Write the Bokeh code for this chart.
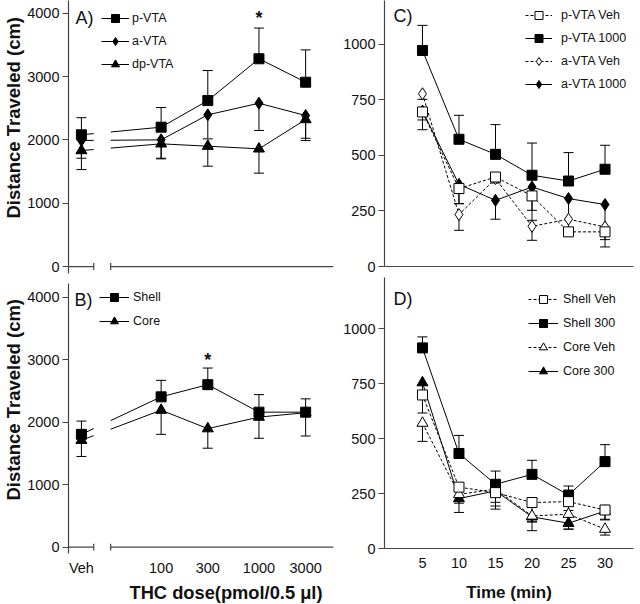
import numpy as np
from bokeh.plotting import figure
from bokeh.layouts import row, column
from bokeh.models import (ColumnDataSource, Whisker, TeeHead, Legend, LegendItem,
                          Label, Title, FixedTicker, Range1d)
from bokeh.embed import file_html
from bokeh.resources import INLINE

FONT = "Liberation Sans"

# ---------------- data ----------------
# Dose-response panels (A, B): first entry is vehicle
dose_labels = ["Veh", "100", "300", "1000", "3000"]
doses = [100, 300, 1000, 3000]

pvta_mean = [2080, 2200, 2620, 3280, 2910]
pvta_sem = [270, 310, 475, 485, 510]
avta_mean = [1990, 2000, 2395, 2578, 2384]
avta_sem = [280, 290, 380, 430, 395]
dpvta_mean = [1831, 1937, 1900, 1858, 2321]
dpvta_sem = [300, 237, 316, 384, 296]

shell_mean = [1804, 2404, 2599, 2159, 2159]
shell_sem = [212, 264, 266, 281, 213]
core_mean = [1709, 2191, 1895, 2080, 2150]
core_sem = [259, 387, 313, 339, 373]

# Time-course panels (C, D)
times = [5, 10, 15, 20, 25, 30]
pvta_veh = [696, 351, 403, 318, 156, 156]
pvta_veh_sem = [80, 68, 20, 110, 15, 68]
pvta_1000 = [973, 573, 505, 411, 385, 438]
pvta_1000_sem = [113, 108, 134, 145, 128, 108]
avta_veh = [778, 234, 396, 181, 213, 178]
avta_veh_sem = [25, 71, 20, 63, 50, 25]
avta_1000 = [700, 370, 298, 358, 306, 279]
avta_1000_sem = [40, 87, 85, 105, 150, 158]

shell_veh = [698, 279, 254, 209, 213, 175]
shell_veh_sem = [82, 40, 61, 88, 40, 42]
shell_300 = [912, 432, 292, 337, 243, 395]
shell_300_sem = [50, 82, 60, 64, 41, 77]
core_veh = [570, 246, 270, 148, 156, 88]
core_veh_sem = [83, 40, 60, 27, 68, 27]
core_300 = [754, 227, 262, 144, 115, 170]
core_300_sem = [60, 63, 83, 63, 27, 40]

left_yticks = [0, 1000, 2000, 3000, 4000]
right_yticks = [0, 250, 500, 750, 1000]

# ---------------- layout constants ----------------
VEH_X = 1.185          # where the vehicle group sits on the log-dose axis
XL = (1.053, 3.762)    # log10 dose range of left panels
GAP = (1.311, 1.484)   # axis break
XR = (-0.2, 33.9)

dose_x = [VEH_X] + [float(np.log10(d)) for d in doses]

AXC = "#444444"
TXT = "#111111"
HAS_STANDOFF = "standoff" in Title.properties()


def style_axes(p):
    p.grid.visible = False
    p.outline_line_color = None
    p.background_fill_color = "white"
    p.border_fill_color = "white"
    for ax in p.xaxis + p.yaxis:
        ax.axis_line_color = AXC
        ax.axis_line_width = 1.2
        ax.major_tick_line_color = AXC
        ax.minor_tick_line_color = None
        ax.major_label_text_font = FONT
        ax.major_label_text_font_size = "14.5px"
        ax.major_label_text_color = TXT
    p.yaxis.major_tick_out = 6
    p.yaxis.major_tick_in = 0
    p.yaxis.major_label_standoff = 3


def make_fig(w, h, xr, yr, bl, br, bt, bb):
    p = figure(width=w, height=h, x_range=Range1d(*xr), y_range=Range1d(*yr),
               output_backend="svg", toolbar_location=None,
               min_border_left=bl, min_border_right=br,
               min_border_top=bt, min_border_bottom=bb)
    style_axes(p)
    return p


def make_title(text, size, offset, standoff):
    t = Title(text=text, align="left", offset=offset, text_font=FONT,
              text_font_size=size, text_font_style="bold", text_color=TXT)
    if HAS_STANDOFF:
        t.standoff = standoff
    return t


def add_series(p, specs, order, gap=None):
    rend = {}
    for s in specs:
        m = np.array(s["y"], float)
        e = np.array(s["e"], float)
        up = s["up"]
        src = ColumnDataSource(dict(x=s["x"], y=m,
                                    upper=(m + e) if up else m,
                                    lower=m if up else (m - e)))
        head = TeeHead(size=10, line_color="black", line_width=1)
        p.add_layout(Whisker(source=src, base="x", upper="upper", lower="lower",
                             line_color="black", line_width=1,
                             upper_head=head if up else None,
                             lower_head=None if up else head))
        ln = p.line("x", "y", source=src, line_color="black", line_width=1,
                    line_dash="3 2" if s["dashed"] else "solid")
        rend[s["label"]] = [ln, src]
    if gap is not None:
        p.quad(left=[gap[0]], right=[gap[1]], bottom=[1000], top=[3000],
               fill_color="white", line_color=None)
    for lab in order:
        s = next(t for t in specs if t["label"] == lab)
        ln, src = rend[lab]
        sc = p.scatter("x", "y", source=src, marker=s["marker"], size=s["size"],
                       fill_color="black" if s["filled"] else "white",
                       line_color="black", line_width=1)
        rend[lab] = [ln, sc]
    return rend


def add_legend(p, rend, labels, loc, gw, standoff, spacing):
    items = [LegendItem(label=l, renderers=rend[l]) for l in labels]
    lg = Legend(items=items, location=loc, glyph_width=gw, glyph_height=20,
                label_height=20, spacing=spacing, padding=0, margin=0,
                label_standoff=standoff, border_line_color=None,
                background_fill_alpha=0, label_text_font=FONT,
                label_text_font_size="12.5px", label_text_color=TXT)
    p.add_layout(lg)


def panel_label(p, text, x, y):
    p.add_layout(Label(x=x, y=y, x_units="screen", y_units="screen", text=text,
                       text_font=FONT, text_font_size="18px", text_color=TXT,
                       text_baseline="middle"))


def star(p, x, y):
    p.add_layout(Label(x=x, y=y, y_units="screen", text="*", text_font=FONT,
                       text_font_size="18px", text_font_style="bold",
                       text_align="center", text_baseline="middle", text_color=TXT))


def broken_axis(p):
    p.segment(x0=[XL[0], GAP[1]], x1=[GAP[0], XL[1]], y0=[0, 0], y1=[0, 0],
              line_color=AXC, line_width=1.2)
    p.segment(x0=[GAP[0], GAP[1]], x1=[GAP[0], GAP[1]], y0=[-55, -55], y1=[55, 55],
              line_color=AXC, line_width=1.2)


# ---------------- Panel A ----------------
pa = make_fig(340, 280, XL, (-110, 4200), 67, 7, 0, 7)
pa.xaxis.visible = False
pa.yaxis.ticker = FixedTicker(ticks=left_yticks)
pa.add_layout(make_title("Distance Traveled (cm)", "18.5px", 55, 1), "left")
broken_axis(pa)
specA = [
    dict(label="p-VTA", x=dose_x, y=pvta_mean, e=pvta_sem, up=True, marker="square", filled=True, dashed=False, size=10),
    dict(label="a-VTA", x=dose_x, y=avta_mean, e=avta_sem, up=False, marker="diamond", filled=True, dashed=False, size=12),
    dict(label="dp-VTA", x=dose_x, y=dpvta_mean, e=dpvta_sem, up=False, marker="triangle", filled=True, dashed=False, size=11),
]
rA = add_series(pa, specA, ["dp-VTA", "a-VTA", "p-VTA"], gap=GAP)
add_legend(pa, rA, ["p-VTA", "a-VTA", "dp-VTA"], (33, 199), 28, 3, 3)
panel_label(pa, "A)", 7, 256)
star(pa, float(np.log10(1000)), 256)

# ---------------- Panel B ----------------
pb = make_fig(340, 324, XL, (-103, 4218), 67, 7, 3, 49)
pb.yaxis.ticker = FixedTicker(ticks=left_yticks)
pb.xaxis.ticker = FixedTicker(ticks=dose_x)
pb.xaxis.major_label_overrides = {xv: lab for xv, lab in zip(dose_x, dose_labels)}
pb.xaxis.axis_line_color = None
pb.xaxis.major_tick_line_color = None
pb.xaxis.major_tick_out = 0
pb.xaxis.major_tick_in = 0
pb.xaxis.major_label_standoff = 6
pb.add_layout(make_title("Distance Traveled (cm)", "18.5px", 53, 1), "left")
pb.add_layout(make_title("THC dose(pmol/0.5 \u03bcl)", "18.3px", 61, 3), "below")
broken_axis(pb)
specB = [
    dict(label="Shell", x=dose_x, y=shell_mean, e=shell_sem, up=True, marker="square", filled=True, dashed=False, size=10),
    dict(label="Core", x=dose_x, y=core_mean, e=core_sem, up=False, marker="triangle", filled=True, dashed=False, size=11),
]
rB = add_series(pb, specB, ["Core", "Shell"], gap=GAP)
add_legend(pb, rB, ["Shell", "Core"], (31, 222), 30, 4, 4)
panel_label(pb, "B)", 6, 254)
star(pb, float(np.log10(300)), 194)

# ---------------- Panel C ----------------
pc = make_fig(300, 275, XR, (0, 1198), 34, 7, 0, 9)
pc.yaxis.ticker = FixedTicker(ticks=right_yticks)
pc.xaxis.ticker = FixedTicker(ticks=[])
pc.xaxis.major_tick_out = 0
pc.xaxis.major_label_standoff = 0
specC = [
    dict(label="p-VTA Veh", x=times, y=pvta_veh, e=pvta_veh_sem, up=False, marker="square", filled=False, dashed=True, size=10),
    dict(label="p-VTA 1000", x=times, y=pvta_1000, e=pvta_1000_sem, up=True, marker="square", filled=True, dashed=False, size=10),
    dict(label="a-VTA Veh", x=times, y=avta_veh, e=avta_veh_sem, up=False, marker="diamond", filled=False, dashed=True, size=12),
    dict(label="a-VTA 1000", x=times, y=avta_1000, e=avta_1000_sem, up=False, marker="diamond", filled=True, dashed=False, size=12),
]
rC = add_series(pc, specC, ["a-VTA 1000", "a-VTA Veh", "p-VTA 1000", "p-VTA Veh"])
add_legend(pc, rC, ["p-VTA Veh", "p-VTA 1000", "a-VTA Veh", "a-VTA 1000"], (141, 172), 27, 9, 3)
panel_label(pc, "C)", 9, 251)

# ---------------- Panel D ----------------
pd_ = make_fig(300, 329, XR, (0, 1232), 34, 7, 2, 55)
pd_.yaxis.ticker = FixedTicker(ticks=right_yticks)
pd_.xaxis.ticker = FixedTicker(ticks=times)
pd_.xaxis.major_tick_line_color = None
pd_.xaxis.major_tick_out = 0
pd_.xaxis.major_tick_in = 0
pd_.xaxis.major_label_standoff = 9
pd_.xaxis.axis_label = "Time (min)"
pd_.xaxis.axis_label_standoff = 12
pd_.xaxis.axis_label_text_font = FONT
pd_.xaxis.axis_label_text_font_size = "17px"
pd_.xaxis.axis_label_text_font_style = "bold"
pd_.xaxis.axis_label_text_color = TXT
specD = [
    dict(label="Shell Veh", x=times, y=shell_veh, e=shell_veh_sem, up=False, marker="square", filled=False, dashed=True, size=10),
    dict(label="Shell 300", x=times, y=shell_300, e=shell_300_sem, up=True, marker="square", filled=True, dashed=False, size=10),
    dict(label="Core Veh", x=times, y=core_veh, e=core_veh_sem, up=False, marker="triangle", filled=False, dashed=True, size=11),
    dict(label="Core 300", x=times, y=core_300, e=core_300_sem, up=False, marker="triangle", filled=True, dashed=False, size=11),
]
rD = add_series(pd_, specD, ["Core 300", "Core Veh", "Shell 300", "Shell Veh"])
add_legend(pd_, rD, ["Shell Veh", "Shell 300", "Core Veh", "Core 300"], (144, 167), 30, 5, 4)
panel_label(pd_, "D)", 9, 250)

root = row(column(pa, pb), column(pc, pd_))

open("out.html", "w").write(file_html(root, INLINE))
